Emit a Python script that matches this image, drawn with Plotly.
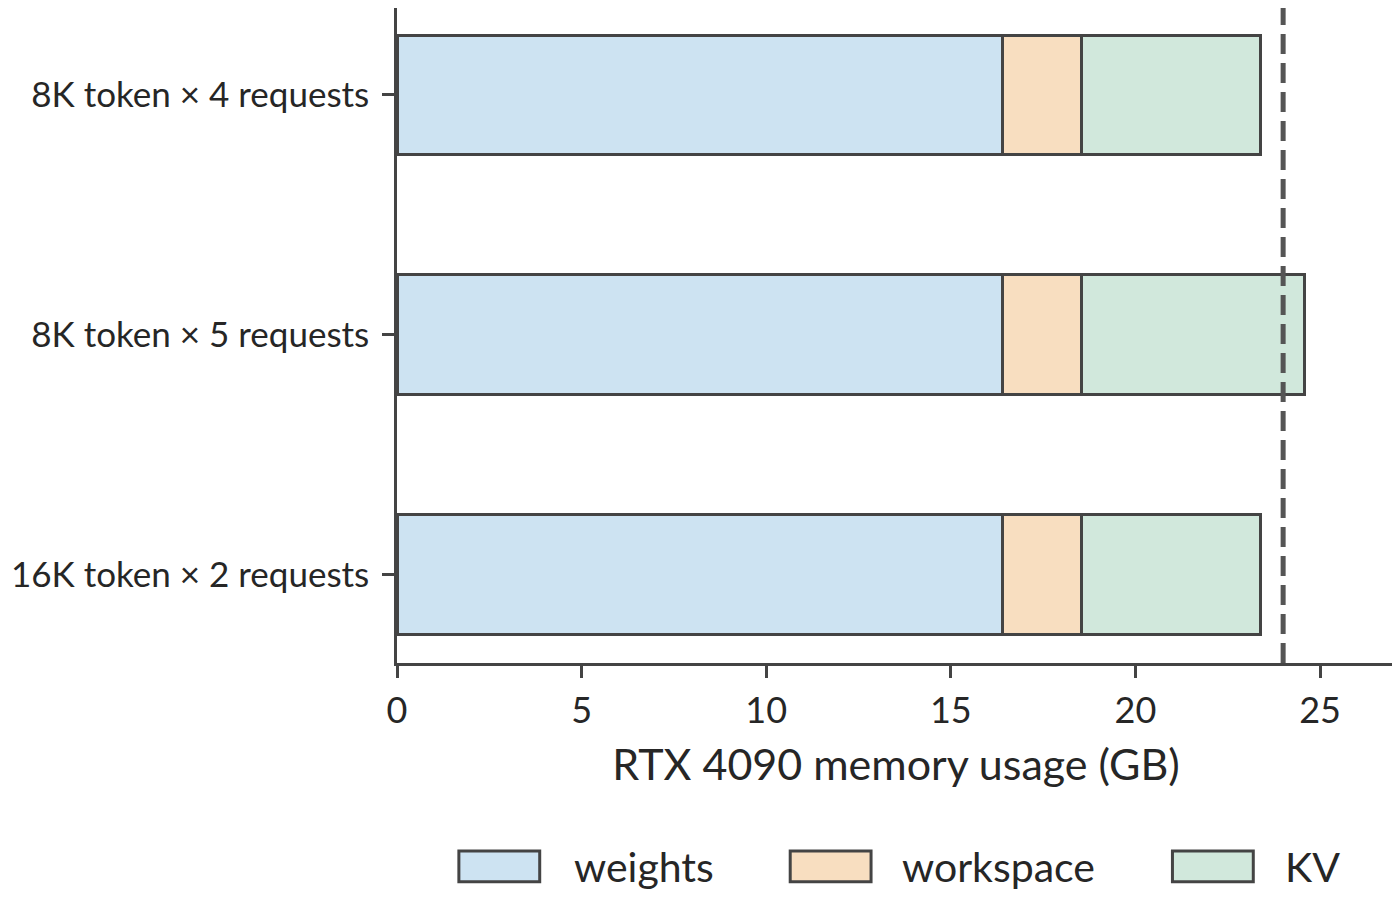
import plotly.graph_objects as go

# ------------------------------------------------------------
# DATA
# ------------------------------------------------------------
configs = ["16K token × 2 requests", "8K token × 5 requests", "8K token × 4 requests"]
weights_gb = [16.4, 16.4, 16.4]
workspace_gb = [2.13, 2.13, 2.13]
kv_gb = [4.85, 6.06, 4.85]
vram_limit = 24

series_names = ["weights", "workspace", "KV"]
series_colors = ["#CDE3F2", "#F8DEC0", "#D1E8DC"]
edge_color = "#444444"
text_color = "#262626"
font_family = "Lato, 'Source Sans Pro', 'Noto Sans', sans-serif"

fig = go.Figure()

for name, vals, col in zip(series_names, [weights_gb, workspace_gb, kv_gb], series_colors):
    fig.add_trace(go.Bar(
        y=configs, x=vals, name=name, orientation="h",
        marker=dict(color=col, line=dict(color=edge_color, width=3)),
        width=0.5, showlegend=False,
    ))

# 24 GB limit
fig.add_shape(type="line", xref="x", yref="paper", x0=vram_limit, x1=vram_limit,
              y0=0, y1=1, line=dict(color="#555555", width=5, dash="20px,9px"))

# custom legend (matplotlib style boxes below the axis)
legend_pos = [(0.062, 0.175), (0.394, 0.504), (0.777, 0.888)]
for (bx, tx), name, col in zip(legend_pos, series_names, series_colors):
    fig.add_shape(type="rect", xref="paper", yref="paper",
                  x0=bx, x1=bx + 0.081, y0=-0.287, y1=-0.334,
                  fillcolor=col, line=dict(color=edge_color, width=3))
    fig.add_annotation(x=tx, y=-0.310, xref="paper", yref="paper", text=name,
                       showarrow=False, xanchor="left", yanchor="middle",
                       font=dict(size=41, color=text_color, family=font_family))

fig.update_layout(
    barmode="stack",
    width=1392, height=903,
    margin=dict(l=389, r=5, t=0, b=248),
    plot_bgcolor="white", paper_bgcolor="white",
    font=dict(family=font_family, size=36, color=text_color),
    showlegend=False,
)
fig.update_xaxes(
    range=[0, 27.03], tickvals=[0, 5, 10, 15, 20, 25],
    showline=True, linecolor=edge_color, linewidth=2.5,
    ticks="outside", ticklen=12, tickwidth=2.5, tickcolor=edge_color,
    ticklabelstandoff=2, automargin=False,
    showgrid=False, zeroline=False,
    title=dict(text="RTX 4090 memory usage (GB)", font=dict(size=43), standoff=20),
    tickfont=dict(size=36),
)
fig.update_yaxes(
    range=[-0.367, 2.3625],
    showline=True, linecolor=edge_color, linewidth=2.5,
    ticks="outside", ticklen=12, tickwidth=2.5, tickcolor=edge_color,
    ticklabelstandoff=6, automargin=False,
    showgrid=False, zeroline=False,
    tickfont=dict(size=35),
)

fig.write_html("out.html")
